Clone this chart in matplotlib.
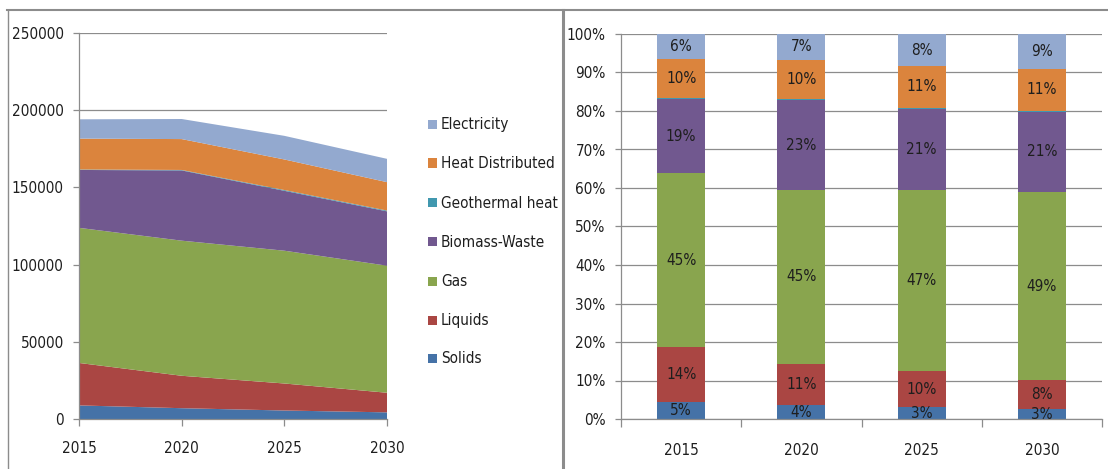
import matplotlib
matplotlib.use("Agg")
import matplotlib.pyplot as plt
from matplotlib.lines import Line2D
from matplotlib.patches import Rectangle
from matplotlib import font_manager as fm
import numpy as np

# ---------------- data ----------------
years = [2015, 2020, 2025, 2030]
series_names = ["Solids", "Liquids", "Gas", "Biomass-Waste",
                "Geothermal heat", "Heat Distributed", "Electricity"]
solids = [8800, 7000, 5500, 4300]
liquids = [27500, 21000, 17500, 12700]
gas = [87500, 87500, 86000, 82300]
biomass = [37500, 45500, 38800, 35200]
geothermal = [300, 300, 500, 500]
heat = [20000, 20000, 19800, 18400]
electricity = [12500, 13000, 15300, 15100]
colors = ["#4572A7", "#AA4643", "#89A54E", "#71588F",
          "#4198AF", "#DB843D", "#93A9CF"]
y_ticks_left = [0, 50000, 100000, 150000, 200000, 250000]
y_ticks_right = [0, 10, 20, 30, 40, 50, 60, 70, 80, 90, 100]

series = [solids, liquids, gas, biomass, geothermal, heat, electricity]

# pick a condensed regular face if one is installed
names = {f.name for f in fm.fontManager.ttflist}
cond = [f for f in fm.fontManager.ttflist
        if f.name == "DejaVu Sans"
        and "condensed" in f.fname.lower()
        and "bold" not in f.fname.lower()
        and "oblique" not in f.fname.lower()]
if "Liberation Sans Narrow" in names:
    FP = fm.FontProperties(family="Liberation Sans Narrow", size=12)
elif cond:
    FP = fm.FontProperties(fname=cond[0].fname, size=11)
else:
    FP = fm.FontProperties(family="Liberation Sans", size=10.5)

TXT = "#1e1e1e"
GRID = "#8c8c8c"

W, H = 1108, 469
fig = plt.figure(figsize=(W / 100, H / 100), dpi=100)

def fx(px):
    return px / W

def fy(py):
    return 1 - py / H

# panel frames
fig.add_artist(Line2D([fx(7), 1], [fy(10), fy(10)], color="#8c8c8c", lw=1.5,
                      transform=fig.transFigure))
fig.add_artist(Line2D([fx(7.5), fx(7.5)], [0, fy(10)], color="#8c8c8c", lw=1.0,
                      transform=fig.transFigure))
fig.add_artist(Line2D([fx(563), fx(563)], [0, fy(10)], color="#8c8c8c", lw=2.2,
                      transform=fig.transFigure))

# ---------------- left: stacked area ----------------
axL = fig.add_axes([fx(79), fy(419), fx(387 - 79), (419 - 33) / H])
axL.stackplot(years, *series, colors=colors, linewidth=0, zorder=2)
axL.set_xlim(2015, 2030)
axL.set_ylim(0, 250000)
axL.set_xticks(years)
axL.set_xticklabels([str(y) for y in years], fontproperties=FP, color=TXT)
axL.set_yticks(y_ticks_left)
axL.set_yticklabels([str(v) for v in y_ticks_left], fontproperties=FP, color=TXT)
axL.yaxis.grid(True, color=GRID, lw=0.9, zorder=0)
axL.set_axisbelow(True)
for s in ["top", "right"]:
    axL.spines[s].set_visible(False)
for s in ["left", "bottom"]:
    axL.spines[s].set_color(GRID)
    axL.spines[s].set_linewidth(0.9)
    axL.spines[s].set_zorder(3)
axL.tick_params(axis="y", length=4, width=0.9, color=GRID, pad=7)
axL.tick_params(axis="x", length=5, width=0.9, color=GRID, pad=11)

# legend (reverse order, manual layout)
leg_y = [125, 163, 203, 242, 281, 320, 358]
for name, col, yy in zip(series_names[::-1], colors[::-1], leg_y):
    fig.add_artist(Rectangle((fx(428), fy(yy + 4.5)), fx(9), 9 / H,
                             facecolor=col, edgecolor="none",
                             transform=fig.transFigure))
    fig.text(fx(441), fy(yy), name, fontproperties=FP, color=TXT,
             va="center", ha="left")

# ---------------- right: 100% stacked bars ----------------
axR = fig.add_axes([fx(621), fy(419), fx(1102 - 621), (419 - 34) / H])
data = np.array(series, dtype=float)
totals = data.sum(axis=0)
pct = data / totals * 100
x = np.arange(len(years))
bottom = np.zeros(len(years))
for i, (name, col) in enumerate(zip(series_names, colors)):
    axR.bar(x, pct[i], 0.4, bottom=bottom, color=col, zorder=2)
    if name != "Geothermal heat":
        for xi, b, h in zip(x, bottom, pct[i]):
            axR.text(xi, b + h / 2, f"{h:.0f}%", ha="center", va="center",
                     fontproperties=FP, color=TXT, zorder=4)
    bottom += pct[i]

axR.set_xlim(-0.5, len(years) - 0.5)
axR.set_ylim(0, 100)
axR.set_yticks(y_ticks_right)
axR.set_yticklabels([f"{v}%" for v in y_ticks_right], fontproperties=FP, color=TXT)
axR.set_xticks(np.arange(-0.5, len(years), 1.0))
axR.set_xticklabels([])
axR.set_xticks(x, minor=True)
axR.set_xticklabels([str(y) for y in years], minor=True, fontproperties=FP, color=TXT)
axR.yaxis.grid(True, color=GRID, lw=0.9, zorder=0)
axR.set_axisbelow(True)
for s in ["top", "right"]:
    axR.spines[s].set_visible(False)
for s in ["left", "bottom"]:
    axR.spines[s].set_color(GRID)
    axR.spines[s].set_linewidth(0.9)
    axR.spines[s].set_zorder(3)
axR.tick_params(axis="y", length=4, width=0.9, color=GRID, pad=7)
axR.tick_params(axis="x", which="major", length=6, width=0.9, color=GRID)
axR.tick_params(axis="x", which="minor", length=0, pad=17)

fig.savefig("out.png", dpi=100)
